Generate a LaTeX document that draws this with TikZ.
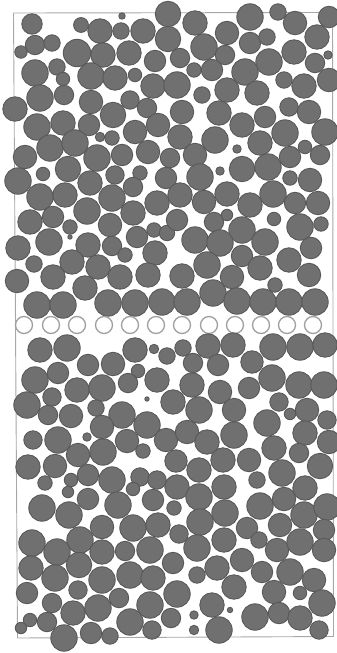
\documentclass[tikz,border=0pt]{standalone}
\usepackage{tikz}
\definecolor{ballfill}{HTML}{707070}
\definecolor{balledge}{HTML}{595959}
\definecolor{framecol}{HTML}{A8A8A8}
\definecolor{ringcol}{HTML}{A0A0A0}
\tikzset{
  ball/.style={fill=ballfill, draw=balledge, line width=0.9pt},
  ringball/.style={fill=white, draw=ringcol, line width=1.3pt},
  frameline/.style={draw=framecol, line width=0.9pt}
}
\begin{document}
\begin{tikzpicture}[x=1pt,y=-1pt]
\fill[white] (0,0) rectangle (337,653);
\useasboundingbox (0,0) rectangle (337,653);
\draw[frameline] (13.5,13) -- (332.5,12.5) -- (333.5,636.5) -- (17.5,638) -- cycle;
% upper block
\foreach \x/\y/\r in {
32/24/9.5, 81/25/6.7, 100/31/11.5, 121/31/7.5, 143/31/11.5, 122/16/2.5, 168/14/12, 168/39/12,
35/45/9, 52/43/7.5, 21/52/5.5, 77/53/13, 103/55/11.5, 129/53/11.5, 155/61/10,
35/73/12.5, 57/67/7.5, 63/79/6, 91/76/12.5, 115/78/11.5, 135/75/6, 153/86/11.5,
40/98/12.5, 64/95/9, 15/109/11.5, 91/102/11, 113/115/12, 130/100/8.5, 147/108/9,
37/127/12.5, 63/123/11.5, 89/125/10, 100/137/4, 112/138/6.5, 135/132/11, 158/125/11,
50/148/12.5, 75/143/12.5, 25/157/11, 97/158/12.5, 122/155/10, 148/152/11,
195/23/11.5, 227/33/11, 250/17/12.5, 278/12/7.5, 295/23/11, 329/17/10, 317/37/11.5,
250/43/10, 267/37/7.5, 204/47/12.5, 180/58/9, 194/70/6.5, 225/55/9, 269/62/12.5,
294/52/11.5, 328/55/3.5, 315/63/9, 212/70/10, 245/72/12.5, 177/85/12.5, 202/95/7.5,
227/90/11.5, 257/93/11.5, 284/80/7.5, 304/86/11.5, 329/80/11, 182/112/11, 219/113/11.5,
265/117/10, 289/107/8.5, 309/112/11, 180/137/11.5, 215/140/12.5, 242/125/11.5,
260/143/11.5, 285/133/12.5, 325/132/12.5, 305/147/6, 237/149/3.5, 195/155/11,
290/157/10, 320/155/9, 170/158/9,
18/181/12.5, 43/174/6, 68/169/12, 90/183/11.5, 115/175/8.5, 140/173/6.5, 133/187/9,
166/178/10, 40/197/12.5, 65/195/11.5, 112/198/12.5, 157/203/11.5, 30/222/11.5,
53/217/10, 87/211/12.5, 70/227/6.5, 70/237/1.5, 110/225/11, 133/213/11.5, 154/230/6.5,
167/233/7, 137/237/10, 18/248/11.5, 49/242/12.5, 88/245/11.5, 112/246/9, 125/255/6.5,
155/253/11.5, 34/264/7.5, 72/262/11.5, 98/267/11.5, 53/277/11.5, 17/281/11,
120/277/11.5, 148/275/11.5, 85/288/11.5,
200/177/12.5, 220/171/3.5, 242/169/12, 268/167/12.5, 290/178/6.5, 310/180/11,
180/195/11.5, 204/202/11, 227/194/11.5, 250/205/11.5, 273/194/12.5, 295/203/10,
318/203/11, 177/220/10, 214/222/9, 227/215/5, 242/230/12.5, 274/219/6, 300/227/12.5,
321/224/6.5, 195/240/12.5, 220/243/12.5, 265/242/12.5, 311/248/10, 242/256/10,
289/260/11.5, 207/265/12.5, 182/276/11.5, 260/268/11.5, 232/277/11, 309/275/11,
275/285/6.5,
37/305/12.5, 63/305/12.5, 108/303/12.5, 135/303/12.5, 162/302/12.5, 187/302/12.5,
213/293/12.5, 237/301/12.5, 263/302/12.5, 289/302/12.5, 315/302/12.5}
  \filldraw[ball] (\x,\y) circle[radius=\r pt+0.7pt];
% row of open circles
\foreach \x in {24,51,77,104,130,156,182,209,235,261,287,313}
  \filldraw[ringball] (\x,325) circle[radius=8.5pt];
% lower block
\foreach \x/\y/\r in {
40/350/11.5, 67/348/12.5, 88/365/10, 113/364/11, 135/350/11.5, 154/349/4, 167/356/7.5,
183/348/7.5, 193/363/9, 208/346/11.5, 233/345/11.5, 218/365/10, 252/362/10.5,
273/347/12.5, 300/347/12.5, 325/345/11.5,
35/380/12.5, 58/373/10, 138/371/6, 128/383/9, 77/390/11.5, 102/388/12.5, 157/380/11.5,
27/405/12.5, 52/397/8.5, 48/415/9, 71/416/11, 96/408/7.5, 147/399/1.5, 122/415/12.5,
147/425/12.5, 102/427/11, 173/402/11.5, 33/440/8.5, 58/440/12.5, 87/437/3.5,
78/455/11, 103/452/12.5, 127/441/11, 143/451/6.5, 166/440/11,
272/378/12.5, 299/385/12.5, 324/385/12.5, 192/385/11.5, 220/392/11, 249/388/10,
199/410/12.5, 234/410/11, 279/402/8.5, 290/414/5, 307/410/11, 267/423/12.5,
327/420/8.5, 187/432/11, 234/435/12.5, 207/442/11.5, 305/433/11.5, 274/448/11.5,
329/442/11, 299/453/9, 176/461/10.5, 199/470/11.5, 223/460/11.5, 249/460/11,
28/467/11.5, 55/466/11, 45/483/6.5, 71/480/6, 68/492/5, 88/475/10, 112/480/12.5,
140/477/8.5, 157/480/8.5, 133/489/6, 42/508/12.5, 69/515/12.5, 88/499/10,
118/505/12.5, 153/500/10, 102/527/11, 133/528/12.5, 158/525/11.5, 32/543/12.5,
80/540/12.5, 57/552/12.5, 102/552/11.5, 125/551/9, 150/550/12.5,
257/480/7.5, 282/473/12.5, 320/466/12, 177/487/11.5, 199/497/12.5, 224/487/11.5,
260/506/12.5, 284/499/11, 305/488/11.5, 304/515/12.5, 327/507/12.5, 174/508/6.5,
225/513/12.5, 200/522/12.5, 247/528/10, 280/525/11, 324/530/10, 179/534/8.5,
224/540/11.5, 259/540/7.5, 197/548/12.5, 277/550/11, 300/542/12.5, 324/550/11,
31/568/11.5, 55/578/12.5, 79/565/12, 102/580/12.5, 130/575/12.5, 153/578/11.5,
27/593/10, 78/590/8.5, 52/603/9, 73/613/11.5, 98/608/12.5, 119/598/9, 150/605/12.5,
30/620/6, 21/628/5, 47/622/9, 64/638/12.5, 91/633/10, 110/636/7.5, 130/622/12.5,
152/630/8.5, 171/618/9,
173/563/10, 197/575/7.5, 217/568/11.5, 242/560/11, 262/572/10, 290/572/12.5,
314/580/11, 177/594/12.5, 234/587/11.5, 274/592/11, 300/593/6, 322/603/12.5,
212/605/11.5, 194/615/3.5, 230/610/2, 194/630/4, 219/630/12.5, 255/617/12.5,
279/613/10, 300/618/11.5, 319/630/8.5}
  \filldraw[ball] (\x,\y) circle[radius=\r pt+0.7pt];
\end{tikzpicture}
\end{document}
